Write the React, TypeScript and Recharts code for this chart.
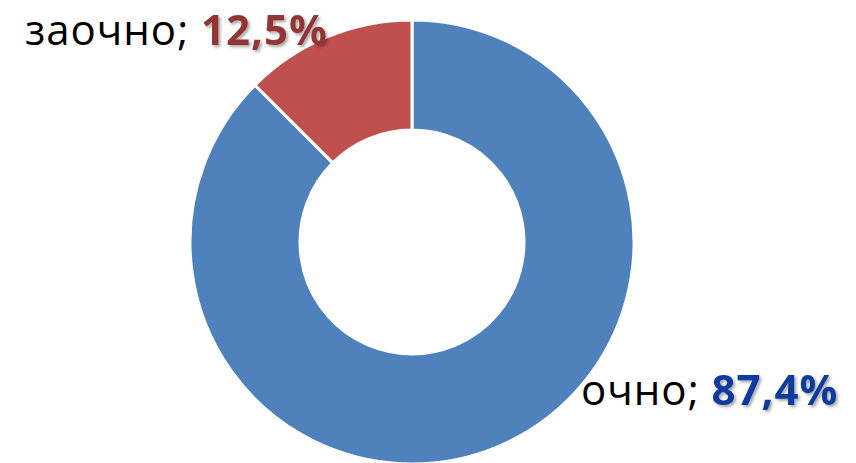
import { PieChart, Pie, Cell } from "recharts";

const categories = ["очно", "заочно"];
const shares = [87.4, 12.5];
const sliceColors = ["#4F81BD", "#C0504D"];
const valueColors = ["#0F3A9E", "#943634"];

const data = categories.map((name, i) => ({ name, value: shares[i] }));

const RAD = Math.PI / 180;

// label offsets from the slice's outer mid point
const labelShift = [
  { dx: 84, dy: -42, anchor: "start" },
  { dx: 1, dy: 8, anchor: "end" },
];

const fmt = (v: number) => v.toFixed(1).replace(".", ",") + "%";

function renderLabel(props: any) {
  const { cx, cy, midAngle, outerRadius, index, payload } = props;
  const x = cx + outerRadius * Math.cos(-midAngle * RAD);
  const y = cy + outerRadius * Math.sin(-midAngle * RAD);
  const s = labelShift[index];
  return (
    <text
      x={x + s.dx}
      y={y + s.dy}
      textAnchor={s.anchor}
      fontFamily="'Open Sans', sans-serif"
      fontSize={42}
      letterSpacing={1}
      fill="#000"
    >
      <tspan>{payload.name}; </tspan>
      <tspan fontWeight="bold" fill={valueColors[index]} filter="url(#valShadow)">
        {fmt(payload.value)}
      </tspan>
    </text>
  );
}

export default function App() {
  return (
    <div style={{ position: "absolute", left: 0, top: 0, background: "#fff" }}>
      <PieChart width={856} height={463} margin={{ top: 0, right: 0, bottom: 0, left: 0 }}>
        <defs>
          <filter id="valShadow" x="-10%" y="-10%" width="130%" height="140%">
            <feDropShadow dx="2" dy="2" stdDeviation="1.5" floodColor="#000" floodOpacity="0.35" />
          </filter>
        </defs>
        <Pie
          data={data}
          dataKey="value"
          nameKey="name"
          cx={412}
          cy={242}
          innerRadius={112}
          outerRadius={222}
          startAngle={90}
          endAngle={-270}
          stroke="#fff"
          strokeWidth={3}
          label={renderLabel}
          labelLine={false}
          isAnimationActive={false}
        >
          {data.map((d, i) => (
            <Cell key={d.name} fill={sliceColors[i]} />
          ))}
        </Pie>
      </PieChart>
    </div>
  );
}
